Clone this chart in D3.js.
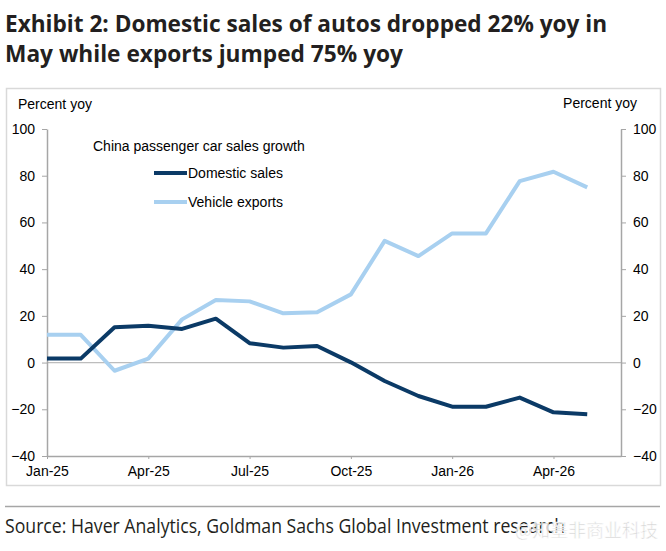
<!DOCTYPE html>
<html>
<head>
<meta charset="utf-8">
<script src="https://cdn.jsdelivr.net/npm/d3@7"></script>
<style>
  body { margin: 0; background: #fff; }
  svg { display: block; }
</style>
</head>
<body>
<div id="chart"></div>
<script>
// monthly yoy growth, Jan-25 .. May-26
const months = ["Jan-25","Feb-25","Mar-25","Apr-25","May-25","Jun-25","Jul-25","Aug-25","Sep-25",
                "Oct-25","Nov-25","Dec-25","Jan-26","Feb-26","Mar-26","Apr-26","May-26"];
const domestic = [1.7, 1.7, 15.1, 15.8, 14.4, 18.8, 8.3, 6.4, 7.1, 0.1, -7.9, -14.3, -18.9, -18.9, -15.0, -21.3, -22.1];
const exports_ = [11.9, 11.9, -3.5, 1.7, 18.5, 26.8, 26.2, 21.1, 21.5, 29.2, 52.1, 45.6, 55.3, 55.3, 77.7, 81.7, 75.0];
const xTickIdx = [0, 3, 6, 9, 12, 15];
const yTicks = [-40, -20, 0, 20, 40, 60, 80, 100];

const W = 666, H = 551;
const plot = {left: 47, right: 621, top: 129, bottom: 456};
const axisFont = "Liberation Sans, Arial, sans-serif";
const titleFont = "'Liberation Sans Narrow', 'Open Sans', sans-serif";

const svg = d3.select("#chart").append("svg")
  .attr("width", W).attr("height", H);

// title
const titleLines = ["Exhibit 2: Domestic sales of autos dropped 22% yoy in",
                    "May while exports jumped 75% yoy"];
const titleLens = [602, 398];
titleLines.forEach((t, i) => {
  svg.append("text")
    .attr("x", 5).attr("y", 32 + i * 30)
    .attr("font-family", titleFont).attr("font-weight", "bold")
    .attr("font-size", 24).attr("fill", "#231f20")
    .attr("textLength", titleLens[i]).attr("lengthAdjust", "spacingAndGlyphs")
    .text(t);
});

// frame
svg.append("rect")
  .attr("x", 6.5).attr("y", 88.5).attr("width", 654).attr("height", 397)
  .attr("fill", "none").attr("stroke", "#d9d9d9").attr("stroke-width", 1.5);

const x = d3.scaleLinear().domain([0, 17]).range([plot.left, plot.right]);
const y = d3.scaleLinear().domain([-40, 100]).range([plot.bottom, plot.top]);

// zero line
svg.append("line")
  .attr("x1", plot.left).attr("x2", plot.right)
  .attr("y1", y(0)).attr("y2", y(0))
  .attr("stroke", "#bdbdbd").attr("stroke-width", 1.2);

function styleAxis(g) {
  g.selectAll(".domain").attr("stroke", "#a6a6a6").attr("stroke-width", 1.5);
  g.selectAll(".tick line").attr("stroke", "#a6a6a6");
  g.selectAll("text").attr("font-family", axisFont).attr("font-size", 14).attr("fill", "#000");
}

svg.append("g")
  .attr("transform", `translate(${plot.left},0)`)
  .call(d3.axisLeft(y).tickValues(yTicks).tickSize(5).tickSizeOuter(0).tickPadding(7))
  .call(styleAxis);

svg.append("g")
  .attr("transform", `translate(${plot.right},0)`)
  .call(d3.axisRight(y).tickValues(yTicks).tickSize(5).tickSizeOuter(0).tickPadding(7))
  .call(styleAxis);

svg.append("g")
  .attr("transform", `translate(0,${plot.bottom})`)
  .call(d3.axisBottom(x).tickValues(xTickIdx).tickFormat(i => months[i])
        .tickSize(3).tickSizeOuter(0).tickPadding(7))
  .call(styleAxis);

// axis titles
svg.append("text").attr("x", 18).attr("y", 109)
  .attr("font-family", axisFont).attr("font-size", 14).text("Percent yoy");
svg.append("text").attr("x", 637).attr("y", 108).attr("text-anchor", "end")
  .attr("font-family", axisFont).attr("font-size", 14).text("Percent yoy");

// lines
const line = d3.line().x((d, i) => x(i)).y(d => y(d));
const series = [
  {name: "Domestic sales", values: domestic, color: "#0b3a66"},
  {name: "Vehicle exports", values: exports_, color: "#a8d0f0"}
];
svg.selectAll("path.series")
  .data(series.slice().reverse())
  .enter().append("path")
    .attr("class", "series")
    .attr("d", d => line(d.values))
    .attr("fill", "none")
    .attr("stroke", d => d.color)
    .attr("stroke-width", 4)
    .attr("stroke-linejoin", "round");

// legend
svg.append("text").attr("x", 93).attr("y", 151)
  .attr("font-family", axisFont).attr("font-size", 14).text("China passenger car sales growth");
const leg = svg.selectAll("g.leg").data(series).enter().append("g")
  .attr("class", "leg")
  .attr("transform", (d, i) => `translate(154,${173 + i * 29})`);
leg.append("line").attr("x1", 0).attr("x2", 33)
  .attr("stroke", d => d.color).attr("stroke-width", 4);
leg.append("text").attr("x", 34).attr("y", 5)
  .attr("font-family", axisFont).attr("font-size", 14).text(d => d.name);

// source
svg.append("line").attr("x1", 5).attr("x2", 660).attr("y1", 506.5).attr("y2", 506.5)
  .attr("stroke", "#a6a6a6").attr("stroke-width", 1.5);
svg.append("text").attr("x", 5).attr("y", 533)
  .attr("font-family", titleFont).attr("font-size", 20).attr("fill", "#231f20")
  .attr("textLength", 560).attr("lengthAdjust", "spacingAndGlyphs")
  .text("Source: Haver Analytics, Goldman Sachs Global Investment research");

// watermark
svg.append("text").attr("x", 658).attr("y", 537).attr("text-anchor", "end")
  .attr("font-family", "'Noto Sans CJK SC', sans-serif").attr("font-size", 18)
  .attr("fill", "#d0d0d0").attr("stroke", "#ffffff").attr("stroke-width", 0.6)
  .attr("opacity", 0.9)
  .text("@知墨非商业科技");
</script>
</body>
</html>
